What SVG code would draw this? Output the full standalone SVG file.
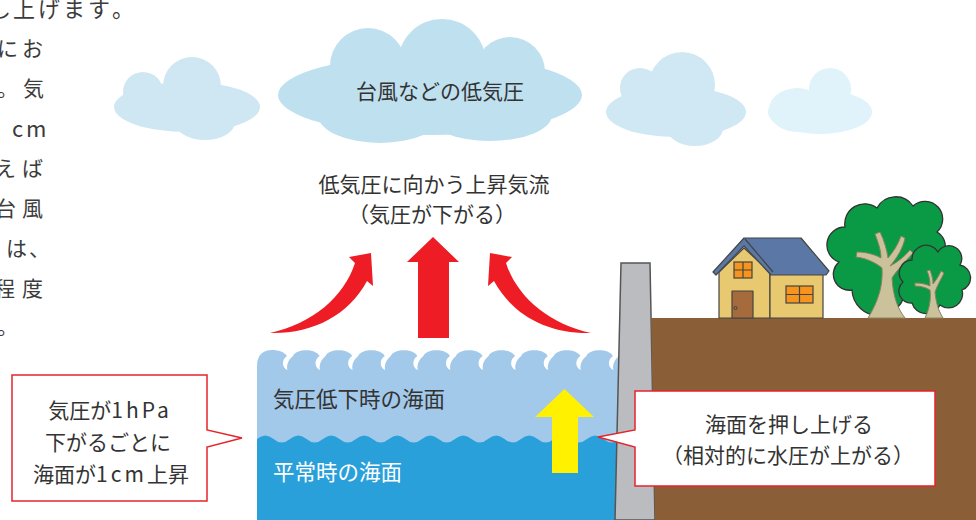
<svg xmlns="http://www.w3.org/2000/svg" width="976" height="520" viewBox="0 0 976 520">
  <defs>
    <style>
      .txt { font-family: "Noto Sans CJK JP", "Noto Sans", sans-serif; fill: #333; dominant-baseline: central; }
      .body { font-size: 21px; fill: #3c3c3c; }
      .lbl { font-size: 21px; text-anchor: middle; }
      .lat { letter-spacing: 3px; }
      .arrow { fill: #ee1c25; }
      .callout { fill: #fff; stroke: #e6242b; stroke-width: 1.5; }
      .outline { stroke: #444; stroke-width: 1.2; stroke-linejoin: round; }
      .win { fill: #f7941d; stroke: #444; stroke-width: 1.2; }
      .trunk { fill: #cbc29c; stroke: #8a8262; stroke-width: 1; }
      .crown { fill: #0a9a46; stroke: #333; stroke-width: 1.3; }
    </style>
  </defs>

  <rect width="976" height="520" fill="#fff"/>

  <!-- paragraph text running in from the left edge -->
  <g id="paragraph" class="txt body">
    <text x="-11 13 38 63 88 112" y="7" font-size="22">し上げます。</text>
    <text x="-3 22" y="47">にお</text>
    <text x="-3 23" y="87">。気</text>
    <text x="12 26" y="127" font-size="22">cm</text>
    <text x="-5 22" y="167">えば</text>
    <text x="-5 22" y="207">台風</text>
    <text x="6 29" y="247">は、</text>
    <text x="-6 22" y="287">程度</text>
    <text x="-3" y="325">。</text>
  </g>

  <!-- clouds -->
  <g id="cloud-left" fill="#cfe7f3">
    <ellipse cx="187" cy="107" rx="73" ry="25"/>
    <circle cx="192" cy="86" r="29"/>
    <circle cx="143" cy="92" r="20"/>
    <ellipse cx="205" cy="122" rx="30" ry="18"/>
  </g>
  <g id="cloud-low-pressure">
    <g fill="#bfe0ef">
      <ellipse cx="430" cy="95" rx="152" ry="40"/>
      <circle cx="368" cy="66" r="38"/>
      <circle cx="442" cy="63" r="44"/>
      <circle cx="510" cy="72" r="35"/>
      <ellipse cx="380" cy="115" rx="62" ry="28"/>
      <ellipse cx="490" cy="115" rx="62" ry="26"/>
    </g>
    <text class="txt lbl" x="440" y="90">台風などの低気圧</text>
  </g>
  <g id="cloud-right" fill="#d0e8f4">
    <ellipse cx="676" cy="112" rx="70" ry="25"/>
    <circle cx="682" cy="85" r="33"/>
    <circle cx="640" cy="88" r="20"/>
    <ellipse cx="695" cy="128" rx="28" ry="18"/>
  </g>
  <g id="cloud-far" fill="#e0f2fa">
    <ellipse cx="820" cy="112" rx="52" ry="22"/>
    <circle cx="830" cy="89" r="21"/>
    <ellipse cx="797" cy="110" rx="28" ry="22"/>
  </g>

  <!-- updraft label -->
  <g id="updraft-label" class="txt lbl">
    <text x="434" y="183">低気圧に向かう上昇気流</text>
    <text x="432" y="213">（気圧が下がる）</text>
  </g>

  <!-- sea -->
  <g id="sea">
    <path fill="#a2c8ea" d="M257,445 V366 C257,354 264,350 272,350 C279,350 284,352 287,356
      C281,360 282,368 287.5,370 C286,366 288,360 293,356
      C296,349 314.6,348 319.6,356
      C313.6,360 314.6,368 320.1,370 C318.6,366 320.6,360 325.6,356
      C328.6,349 347.2,348 352.2,356
      C346.2,360 347.2,368 352.7,370 C351.2,366 353.2,360 358.2,356
      C361.2,349 379.8,348 384.8,356
      C378.8,360 379.8,368 385.3,370 C383.8,366 385.8,360 390.8,356
      C393.8,349 412.4,348 417.4,356
      C411.4,360 412.4,368 417.9,370 C416.4,366 418.4,360 423.4,356
      C426.4,349 445,348 450,356
      C444,360 445,368 450.5,370 C449,366 451,360 456,356
      C459,349 477.6,348 482.6,356
      C476.6,360 477.6,368 483.1,370 C481.6,366 483.6,360 488.6,356
      C491.6,349 510.2,348 515.2,356
      C509.2,360 510.2,368 515.7,370 C514.2,366 516.2,360 521.2,356
      C524.2,349 542.8,348 547.8,356
      C541.8,360 542.8,368 548.3,370 C546.8,366 548.8,360 553.8,356
      C556.8,349 575.4,348 580.4,356
      C574.4,360 575.4,368 580.9,370 C579.4,366 581.4,360 586.4,356
      C589.4,349 608,348 613,356
      C607,360 608,368 613.5,370 C612,366 614,360 619,356
      L625,352 V445 Z"/>
    <path fill="#2aa0da" d="M257,520 V439 Q265.25,432 273.5,439 T290,439 T306.5,439 T323,439 T339.5,439 T356,439 T372.5,439 T389,439 T405.5,439 T422,439 T438.5,439 T455,439 T471.5,439 T488,439 T504.5,439 T521,439 T537.5,439 T554,439 T570.5,439 T587,439 T603.5,439 T620,439 V520 Z"/>
    <text class="txt" x="273" y="397" font-size="21.5">気圧低下時の海面</text>
    <text class="txt" x="273" y="470" font-size="21.5" style="fill:#fff">平常時の海面</text>
  </g>

  <!-- arrows -->
  <g id="connectors">
    <path class="arrow" d="M270,333 C312,334 348,316 367,281 L373,286 L371,253 L349,257 L355,263 C344,297 312,324 270,333 Z"/>
    <polygon class="arrow" points="418,338 449,338 449,262 459,262 433,237 407,262 418,262"/>
    <path class="arrow" transform="translate(861,0) scale(-1,1)" d="M270,333 C312,334 348,316 367,281 L373,286 L371,253 L349,257 L355,263 C344,297 312,324 270,333 Z"/>
    <polygon fill="#fff100" points="552,473 578,473 578,417 594,417 564.5,389 535,417 552,417"/>
  </g>

  <!-- seawall and land -->
  <g id="seawall">
    <polygon points="621,263 650,263 655,520 615,520" fill="#bbbcc0" stroke="#555" stroke-width="1.5"/>
  </g>
  <g id="ground">
    <polygon points="651,318 976,318 976,520 655,520" fill="#8a5e36"/>
  </g>

  <!-- house -->
  <g id="house">
    <polygon class="outline" fill="#e9c970" points="719,318 719,272 744,248 770,272 770,318"/>
    <rect class="outline" fill="#e9c970" x="770" y="273" width="53" height="45"/>
    <polygon class="outline" fill="#5a77a5" points="713,272 744,238 801,238 829,271 826,275 771,275 744,246 716,275"/>
    <line class="outline" x1="745" y1="239" x2="773" y2="272"/>
    <rect class="win" x="734" y="262" width="18" height="16"/>
    <path class="outline" d="M743,262 V278 M734,270 H752"/>
    <rect class="win" x="786" y="286" width="27" height="17"/>
    <path class="outline" d="M799.5,286 V303 M786,294.5 H813"/>
    <rect class="outline" fill="#a66b3c" x="732" y="291" width="21" height="27"/>
    <circle cx="735.5" cy="308" r="1.6" fill="none" stroke="#444" stroke-width="1"/>
  </g>

  <!-- trees -->
  <g id="tree-large">
    <path class="crown" d="M852,290 A16,16 0 0 1 839,262 A18,18 0 0 1 845,227 A20,20 0 0 1 877,208 A21,21 0 0 1 913,206 A17,17 0 0 1 937,232 A16,16 0 0 1 929,262 A18,18 0 0 1 905,288 A24,24 0 0 1 852,290 Z"/>
    <path class="trunk" d="M868,318 C879,300 883,285 882,268 C875,262 865,258 856,257 L857,252 C867,252 876,255 881,258 C881,250 878,242 875,234 L880,232 C884,240 887,250 888,258 C893,252 898,245 901,236 L905,238 C903,248 897,258 890,266 C898,262 905,256 910,250 L913,253 C905,262 897,270 892,278 C893,295 897,308 905,318 Z"/>
  </g>
  <g id="tree-small">
    <path class="crown" d="M912,303 A12,12 0 0 1 903,282 A13,13 0 0 1 912,260 A14,14 0 0 1 938,252 A12,12 0 0 1 960,265 A13,13 0 0 1 962,290 A14,14 0 0 1 940,305 A15,15 0 0 1 912,303 Z"/>
    <path class="trunk" d="M925,318 C930,308 931,298 930,290 C925,287 920,286 915,286 L915,283 C921,283 926,284 930,286 C930,280 929,275 927,271 L930,270 C932,275 933,280 933,284 C936,280 939,276 941,271 L944,273 C941,279 937,286 935,292 C936,302 938,310 943,318 Z"/>
  </g>

  <!-- callouts -->
  <g id="callout-left">
    <path class="callout" d="M12,375 H207 V430 L242,438 L207,447 V501 H12 Z"/>
    <g class="txt lbl">
      <text x="110" y="409">気圧が<tspan class="lat">1hPa</tspan></text>
      <text x="108" y="441">下がるごとに</text>
      <text x="111" y="473">海面が<tspan class="lat">1cm</tspan>上昇</text>
    </g>
  </g>
  <g id="callout-right">
    <path class="callout" d="M635,391 H935 V486 H635 V447 L598,437 L635,430 Z"/>
    <g class="txt lbl">
      <text x="789" y="423">海面を押し上げる</text>
      <text x="788" y="454">（相対的に水圧が上がる）</text>
    </g>
  </g>
</svg>
